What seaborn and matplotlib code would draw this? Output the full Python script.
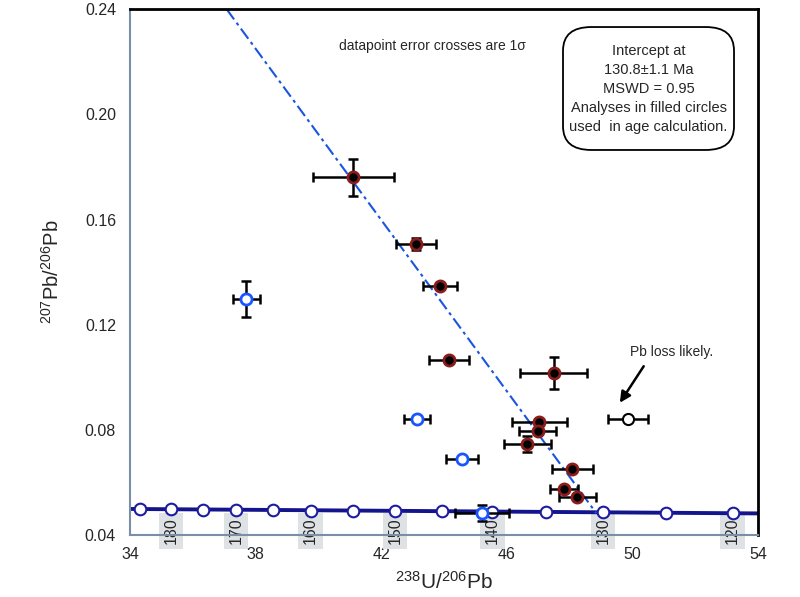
import numpy as np
import pandas as pd
import matplotlib
matplotlib.use("Agg")
import matplotlib.pyplot as plt
from matplotlib.patches import FancyBboxPatch
import seaborn as sns

# analyses used in the age (filled circles)
used_x = [41.11, 43.10, 43.87, 44.17, 47.49, 47.03, 46.98, 46.65, 48.09, 47.82, 48.25]
used_y = [0.1761, 0.1508, 0.1349, 0.1064, 0.1017, 0.0829, 0.0795, 0.0746, 0.0652, 0.0574, 0.0546]
used_xerr = [1.29, 0.64, 0.53, 0.64, 1.07, 0.88, 0.60, 0.75, 0.65, 0.45, 0.60]
used_yerr = [0.0071, 0.0023, 0.0008, 0.0010, 0.0062, 0.0012, 0.0008, 0.0030, 0.0008, 0.0008, 0.0008]

# analyses not used (open blue)
open_x = [37.70, 43.14, 44.58, 45.21]
open_y = [0.1298, 0.0842, 0.0690, 0.0485]
open_xerr = [0.43, 0.42, 0.51, 0.86]
open_yerr = [0.0070, 0.0006, 0.0006, 0.0030]

# Pb loss analysis
loss_x = [49.86]
loss_y = [0.0843]
loss_xerr = [0.64]

# concordia points (Ma)
conc_age = [185, 180, 175, 170, 165, 160, 155, 150, 145, 140, 135, 130, 125, 120]
conc_x = [34.32, 35.31, 36.32, 37.38, 38.54, 39.75, 41.09, 42.44, 43.93, 45.54, 47.24, 49.07, 51.07, 53.19]
conc_y = [0.0498, 0.0497, 0.0496, 0.0495, 0.0494, 0.0493, 0.0492, 0.0491, 0.0490, 0.0489, 0.0488, 0.0487, 0.0485, 0.0484]
label_ages = [180, 170, 160, 150, 140, 130, 120]

# discordia
disc_x = [37.08, 48.85]
disc_y = [0.24, 0.0483]

sns.set_style("white")
plt.rcParams['font.family'] = ['Liberation Sans', 'DejaVu Sans']
plt.rcParams['mathtext.fontset'] = 'custom'
plt.rcParams['mathtext.rm'] = 'Liberation Sans'
plt.rcParams['mathtext.default'] = 'regular'

fig = plt.figure(figsize=(8, 5.97), dpi=100)
ax = fig.add_axes([0.1625, 0.1039, 0.785, 0.8805])

conc = pd.DataFrame({'x': conc_x, 'y': conc_y, 'age': conc_age})
# concordia line spans whole axis
ax.plot([34, 54], [0.0499, 0.0482], color='#14148c', lw=2.8, zorder=2)
sns.scatterplot(data=conc, x='x', y='y', ax=ax, marker='o', s=70, color='white',
                edgecolor='#1c1ca0', linewidth=1.5, zorder=3, clip_on=False)
for a in label_ages:
    xa = conc.loc[conc['age'] == a, 'x'].values[0]
    ax.text(xa, 0.0416, str(a), rotation=90, ha='center', va='center', fontsize=11.5,
            bbox=dict(boxstyle='square,pad=0.3', fc='#dfe2e5', ec='none'), zorder=1, clip_on=False)

ax.plot(disc_x, disc_y, color='#1a55e0', lw=1.5, ls=(0, (6, 2, 1.5, 2)), zorder=2)

ax.errorbar(used_x, used_y, xerr=used_xerr, yerr=used_yerr, fmt='none', ecolor='black',
            elinewidth=1.8, capsize=3.5, capthick=1.8, zorder=4)
ax.errorbar(open_x, open_y, xerr=open_xerr, yerr=open_yerr, fmt='none', ecolor='black',
            elinewidth=1.8, capsize=3.5, capthick=1.8, zorder=4)
ax.errorbar(loss_x, loss_y, xerr=loss_xerr, fmt='none', ecolor='black',
            elinewidth=1.8, capsize=3.5, capthick=1.8, zorder=4)

ax.plot(used_x, used_y, 'o', ms=8, mfc='black', mec='#8a1c1c', mew=2, ls='none', zorder=5)
ax.plot(open_x, open_y, 'o', ms=8, mfc='white', mec='#1a55ff', mew=2, ls='none', zorder=5)
ax.plot(loss_x, loss_y, 'o', ms=8, mfc='white', mec='black', mew=1.5, ls='none', zorder=5)

ax.set_xlim(34, 54)
ax.set_ylim(0.04, 0.24)
ax.set_xticks([34, 38, 42, 46, 50, 54])
ax.set_xticks([36, 40, 44, 48, 52], minor=True)
ax.set_yticks([0.04, 0.08, 0.12, 0.16, 0.20, 0.24])
ax.set_yticklabels(['0.04', '0.08', '0.12', '0.16', '0.20', '0.24'])
ax.set_yticks([0.06, 0.10, 0.14, 0.18, 0.22], minor=True)
ax.tick_params(axis='both', which='both', direction='in', length=4, width=1.2,
               color='#7a8ea6', labelsize=11.5)
ax.tick_params(axis='x', which='major', pad=9)
ax.tick_params(axis='y', which='major', pad=10)

for s in ['left', 'bottom']:
    ax.spines[s].set_color('#7a8ea6')
    ax.spines[s].set_linewidth(1.5)
for s in ['top', 'right']:
    ax.spines[s].set_color('black')
    ax.spines[s].set_linewidth(2)

ax.set_xlabel('$^{238}$U/$^{206}$Pb', fontsize=15, labelpad=6)
ax.set_ylabel('$^{207}$Pb/$^{206}$Pb', fontsize=14.5, labelpad=16)

ax.text(0.481, 0.93, 'datapoint error crosses are 1σ', transform=ax.transAxes,
        ha='center', va='center', fontsize=10)

box = FancyBboxPatch((0.6895, 0.7324), 0.2723, 0.2339, transform=ax.transAxes,
                     boxstyle='round,pad=0,rounding_size=0.045', fc='white', ec='black',
                     lw=1.3, zorder=6)
ax.add_patch(box)
ax.text(0.8257, 0.849, 'Intercept at\n130.8±1.1 Ma\nMSWD = 0.95\nAnalyses in filled circles\nused  in age calculation.',
        transform=ax.transAxes, ha='center', va='center', fontsize=10.5, linespacing=1.45, zorder=7)

ax.text(51.26, 0.1096, 'Pb loss likely.', ha='center', va='center', fontsize=10)
ax.annotate('', xy=(49.60, 0.0903), xytext=(50.36, 0.1042),
            arrowprops=dict(arrowstyle='-|>', color='black', lw=1.8, mutation_scale=16,
                            shrinkA=0, shrinkB=0))

fig.savefig('out.png', dpi=100)
